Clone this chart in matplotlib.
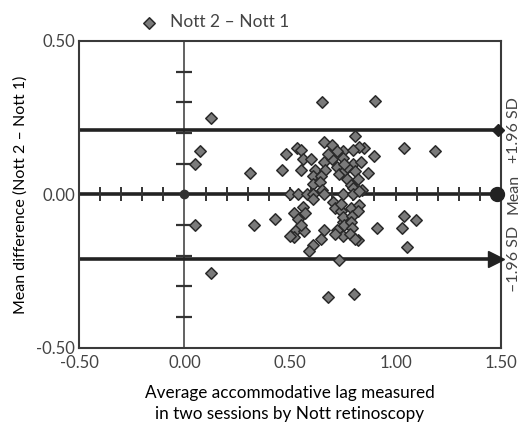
import matplotlib
matplotlib.use('Agg')
import matplotlib.pyplot as plt
import numpy as np

plt.rcParams['font.family'] = ['Lato', 'DejaVu Sans']

# average lag (x) and difference Nott 2 - Nott 1 (y)
avg_lag = [0.05, 0.075, 0.125, 0.05, 0.125, 0.31, 0.33, 0.43, 0.46, 0.48,
           0.65, 0.905, 1.04, 1.185, 1.04, 1.095, 1.03, 1.055, 0.91, 0.68,
           0.805, 0.73, 0.82,
           0.535, 0.55, 0.56, 0.60, 0.66, 0.70, 0.55, 0.62, 0.66, 0.665,
           0.61, 0.645, 0.61, 0.64, 0.65, 0.75, 0.75, 0.725, 0.73, 0.76,
           0.77, 0.81, 0.85, 0.825, 0.80, 0.90, 0.80, 0.835, 0.77, 0.81,
           0.87, 0.82, 0.79, 0.84, 0.80, 0.725, 0.70, 0.755, 0.68,
           0.50, 0.54, 0.58, 0.61, 0.66, 0.75, 0.80, 0.825, 0.61,
           0.52, 0.56, 0.54, 0.53, 0.52, 0.565, 0.61, 0.59, 0.66, 0.645,
           0.705, 0.715, 0.74, 0.75, 0.725, 0.75, 0.74, 0.79, 0.825, 0.75,
           0.795, 0.82, 0.755, 0.79, 0.795, 0.715, 0.785, 0.81, 0.50, 0.57,
           0.55]
diff = [0.10, 0.14, 0.25, -0.10, -0.255, 0.07, -0.10, -0.08, 0.08, 0.13,
        0.30, 0.305, 0.15, 0.14, -0.07, -0.085, -0.11, -0.17, -0.11, -0.335,
        -0.325, -0.215, -0.15,
        0.15, 0.145, 0.115, 0.115, 0.17, 0.16, 0.08, 0.08, 0.105, 0.08,
        0.06, 0.06, 0.035, 0.04, 0.015, 0.14, 0.12, 0.09, 0.065, 0.08,
        0.05, 0.19, 0.15, 0.155, 0.145, 0.125, 0.10, 0.105, 0.09, 0.075,
        0.07, 0.05, 0.03, 0.015, 0.02, 0.14, 0.115, 0.10, 0.13,
        0.0, 0.0, 0.0, 0.0, 0.0, 0.0, 0.0, 0.01, -0.015,
        -0.06, -0.04, -0.08, -0.115, -0.14, -0.12, -0.165, -0.185, -0.115, -0.145,
        -0.025, -0.045, -0.055, -0.09, -0.115, -0.135, -0.03, -0.045, -0.035, -0.075,
        -0.07, -0.055, -0.10, -0.09, -0.11, -0.13, -0.13, -0.145, -0.135, -0.06,
        -0.10]

mean_diff = 0.0
upper_loa = 0.21
lower_loa = -0.21

xticks = [-0.5, 0.0, 0.5, 1.0, 1.5]
yticks = [-0.5, 0.0, 0.5]

fig = plt.figure(figsize=(5.23, 4.30), dpi=100)
ax = fig.add_axes([0.151, 0.191, 0.807, 0.714])
ax.set_xlim(-0.5, 1.5)
ax.set_ylim(-0.5, 0.5)

frame_col = '#3a3a3a'
for s in ax.spines.values():
    s.set_color(frame_col)
    s.set_linewidth(1.5)

ax.set_xticks(xticks)
ax.set_xticklabels(['{:.2f}'.format(v) for v in xticks])
ax.set_yticks(yticks)
ax.set_yticklabels(['{:.2f}'.format(v) for v in yticks])
ax.tick_params(length=0, labelsize=12, labelcolor='#444444')
ax.tick_params(axis='x', pad=5)
ax.tick_params(axis='y', pad=3)

# vertical axis through zero with small crossing ticks
ax.axvline(0, color='#555555', lw=1.3, zorder=1)
minor_y = [v / 10 for v in range(-4, 5) if v != 0]
ax.plot([0] * len(minor_y), minor_y, linestyle='none', marker='_',
        markersize=11, mew=1.6, color='#333333', zorder=1)

# reference lines
ax.plot([-0.5, 1.48], [upper_loa, upper_loa], color='#222222', lw=2.6, zorder=2)
ax.plot([-0.5, 1.48], [mean_diff, mean_diff], color='#222222', lw=2.6, zorder=2)
ax.plot([-0.5, 1.46], [lower_loa, lower_loa], color='#222222', lw=2.6, zorder=2)
ax.plot([1.487], [upper_loa], marker='D', markersize=6.5, color='#222222',
        clip_on=False, zorder=5)
ax.plot([1.483], [mean_diff], marker='o', markersize=10, color='#222222',
        clip_on=False, zorder=5)
ax.plot([1.474], [lower_loa], marker='>', markersize=12, color='#222222',
        clip_on=False, zorder=5)
minor_x = [v / 10 for v in range(-4, 15) if v != 0]
ax.plot(minor_x, [mean_diff] * len(minor_x), linestyle='none', marker='|',
        markersize=10, mew=1.4, color='#333333', zorder=2)
ax.plot([0], [0], marker='o', markersize=6, color='#333333', zorder=3)

ax.scatter(avg_lag, diff, marker='D', s=34, facecolor='#7a7a7a',
           edgecolor='#2a2a2a', linewidth=1.1, zorder=4, label='Nott 2 \u2013 Nott 1')

lbl_kw = dict(rotation=90, va='center', ha='center', fontsize=11.5,
              color='#444444', transform=ax.get_yaxis_transform(), clip_on=False)
ax.text(1.03, upper_loa, '+1.96 SD', **lbl_kw)
ax.text(1.03, mean_diff, 'Mean', **lbl_kw)
ax.text(1.03, lower_loa, '\u20131.96 SD', **lbl_kw)

ax.set_ylabel('Mean difference (Nott 2 \u2013 Nott 1)', fontsize=11.5, labelpad=6)
ax.set_xlabel('Average accommodative lag measured\nin two sessions by Nott retinoscopy',
              fontsize=12.3, labelpad=10, linespacing=1.4)

ax.legend(loc='lower left', bbox_to_anchor=(0.10, 1.0), frameon=False,
          fontsize=12.5, handletextpad=0.2, borderaxespad=0.2, labelcolor='#444444',
          scatterpoints=1)

fig.savefig('out.png', dpi=100)
